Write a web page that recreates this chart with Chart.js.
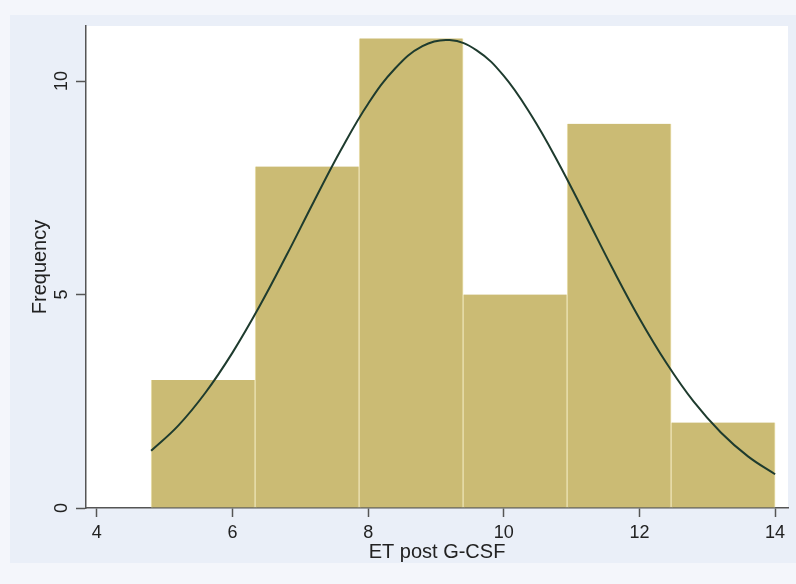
<!DOCTYPE html>
<html>
<head>
<meta charset="utf-8">
<script src="https://cdn.jsdelivr.net/npm/chart.js@4/dist/chart.umd.min.js"></script>
<style>
  html, body { margin: 0; padding: 0; background: #f4f6fb; }
  #wrap { width: 796px; height: 584px; position: relative; }
</style>
</head>
<body>
<div id="wrap"><canvas id="histChart"></canvas></div>
<script>
// bin edges and counts of the histogram
const binEdges = [4.8, 6.333, 7.867, 9.4, 10.933, 12.467, 14.0];
const binCounts = [3, 8, 11, 5, 9, 2];

// normal curve
const curveX = [4.8, 5.2, 5.6, 6.0, 6.4, 6.8, 7.2, 7.6, 8.0, 8.4, 8.8, 9.2,
                9.6, 10.0, 10.4, 10.8, 11.2, 11.6, 12.0, 12.4, 12.8, 13.2, 13.6, 14.0];
const curveY = [1.34, 1.93, 2.70, 3.64, 4.73, 5.93, 7.18, 8.39, 9.47, 10.30, 10.82, 10.96,
                10.72, 10.12, 9.21, 8.10, 6.87, 5.62, 4.44, 3.39, 2.49, 1.77, 1.21, 0.79];

// tick labels
const xTicks = [4, 6, 8, 10, 12, 14];
const yTicks = [0, 5, 10];

document.addEventListener('DOMContentLoaded', function() {

    const barData = binCounts.map(function(c, i) {
        return { x: (binEdges[i] + binEdges[i + 1]) / 2, y: c };
    });
    const lineData = curveX.map(function(x, i) {
        return { x: x, y: curveY[i] };
    });

    // backgrounds (graph region + white plot region) and rotated y labels
    const stataLook = {
        id: 'stataLook',
        beforeDraw: function(chart) {
            const ctx = chart.ctx;
            const a = chart.chartArea;
            ctx.save();
            ctx.fillStyle = '#f4f6fb';
            ctx.fillRect(0, 0, chart.width, chart.height);
            ctx.fillStyle = '#eaeff8';
            ctx.fillRect(10, 15, chart.width - 10, 548);
            ctx.fillStyle = '#ffffff';
            ctx.fillRect(a.left, a.top, a.right - a.left, a.bottom - a.top);
            ctx.restore();
        },
        afterDraw: function(chart) {
            const ctx = chart.ctx;
            const ys = chart.scales.y;
            ctx.save();
            ctx.fillStyle = '#222222';
            ctx.textAlign = 'center';
            ctx.textBaseline = 'alphabetic';
            ctx.font = '18px "Liberation Sans", Arial, sans-serif';
            yTicks.forEach(function(v) {
                ctx.save();
                ctx.translate(67, ys.getPixelForValue(v));
                ctx.rotate(-Math.PI / 2);
                ctx.fillText(String(v), 0, 0);
                ctx.restore();
            });
            ctx.font = '20px "Liberation Sans", Arial, sans-serif';
            ctx.translate(46, (chart.chartArea.top + chart.chartArea.bottom) / 2);
            ctx.rotate(-Math.PI / 2);
            ctx.fillText('Frequency', 0, 0);
            ctx.restore();
        }
    };

    const ctx = document.getElementById('histChart').getContext('2d');
    new Chart(ctx, {
        data: {
            datasets: [{
                type: 'line',
                data: lineData,
                borderColor: '#1e3b2e',
                borderWidth: 2,
                pointRadius: 0,
                tension: 0.4,
                fill: false,
                order: 0
            }, {
                type: 'bar',
                data: barData,
                backgroundColor: '#cbbb74',
                borderColor: '#ebe2b4',
                borderWidth: { left: 1, right: 1, top: 0, bottom: 0 },
                borderSkipped: false,
                barPercentage: 1,
                categoryPercentage: 1,
                grouped: false,
                order: 1
            }]
        },
        options: {
            responsive: true,
            maintainAspectRatio: false,
            animation: false,
            layout: { padding: { top: 26, right: 8, left: 0, bottom: 0 } },
            plugins: {
                legend: { display: false },
                tooltip: { enabled: false }
            },
            scales: {
                x: {
                    type: 'linear',
                    offset: false,
                    min: 3.84,
                    max: 14.19,
                    afterBuildTicks: function(scale) {
                        scale.ticks = xTicks.map(function(v) { return { value: v }; });
                    },
                    afterFit: function(scale) { scale.height = 76; },
                    grid: {
                        offset: false,
                        drawOnChartArea: false,
                        drawTicks: true,
                        tickLength: 9,
                        color: '#555555',
                        tickWidth: 1.5
                    },
                    border: { display: true, color: '#555555', width: 1.5 },
                    ticks: {
                        color: '#222222',
                        padding: 5,
                        maxRotation: 0,
                        font: { family: '"Liberation Sans", Arial, sans-serif', size: 18 }
                    },
                    title: {
                        display: true,
                        text: 'ET post G-CSF',
                        color: '#222222',
                        padding: { top: 0, bottom: 20 },
                        font: { family: '"Liberation Sans", Arial, sans-serif', size: 20 }
                    }
                },
                y: {
                    min: 0,
                    max: 11.29,
                    afterBuildTicks: function(scale) {
                        scale.ticks = yTicks.map(function(v) { return { value: v }; });
                    },
                    afterFit: function(scale) { scale.width = 86; },
                    grid: {
                        offset: false,
                        drawOnChartArea: false,
                        drawTicks: true,
                        tickLength: 10,
                        color: '#555555',
                        tickWidth: 1.5
                    },
                    border: { display: true, color: '#555555', width: 1.5 },
                    ticks: { display: false }
                }
            }
        },
        plugins: [stataLook]
    });
});
</script>
</body>
</html>
